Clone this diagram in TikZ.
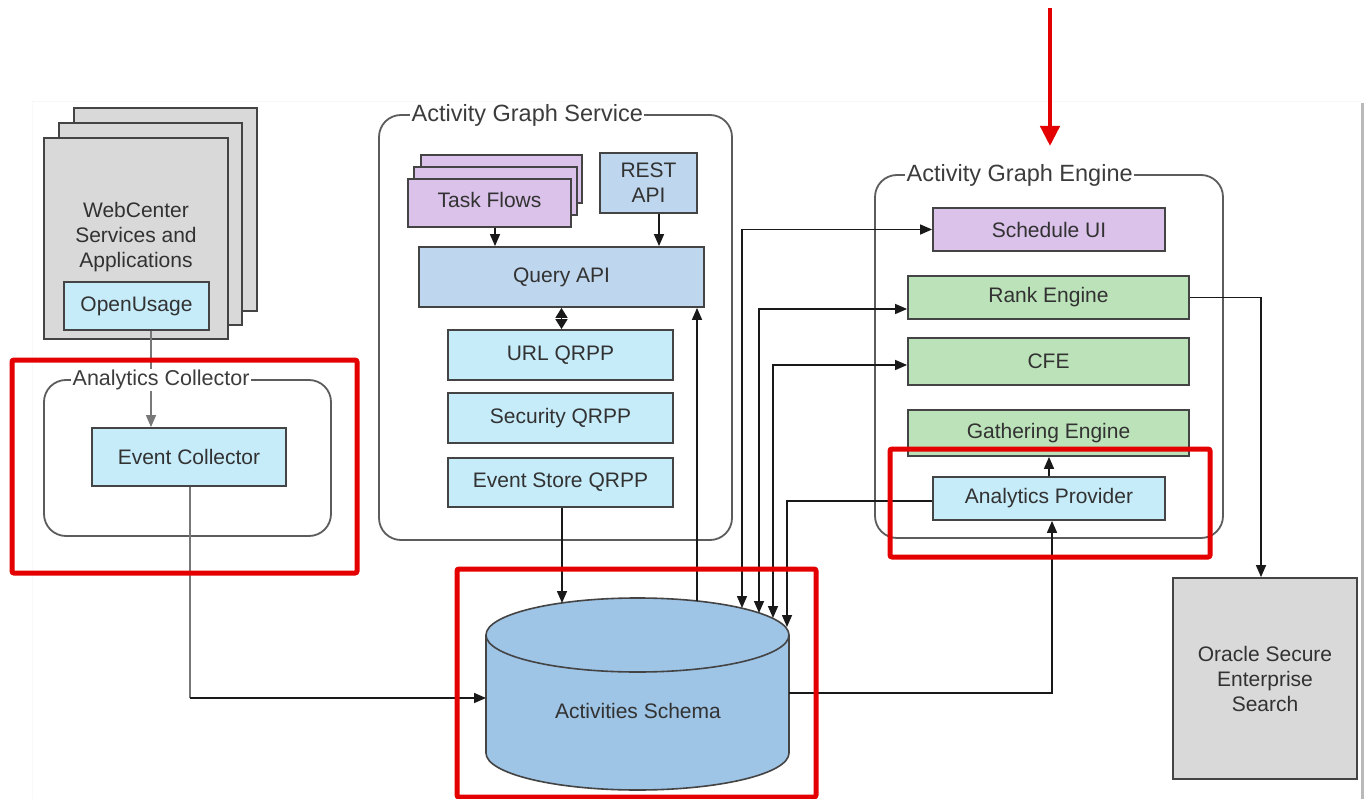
\documentclass[tikz,border=0pt]{standalone}
\usepackage{fontspec}
\setmainfont{Liberation Sans}
\usetikzlibrary{arrows.meta,calc}
\definecolor{lblue}{RGB}{198,236,250}
\definecolor{mblue}{RGB}{190,215,238}
\definecolor{lpurple}{RGB}{218,194,234}
\definecolor{lgreen}{RGB}{188,226,185}
\definecolor{lgray}{RGB}{217,217,217}
\definecolor{dbc}{RGB}{158,196,230}
\definecolor{bline}{RGB}{68,68,68}
\definecolor{cline}{RGB}{92,92,92}
\definecolor{txt}{RGB}{50,50,50}
\definecolor{ttxt}{RGB}{60,60,60}
\definecolor{cc}{RGB}{25,25,25}
\definecolor{gline}{RGB}{120,120,120}
\definecolor{redc}{RGB}{228,0,0}
\begin{document}
\begin{tikzpicture}[x=1pt,y=-1pt,
  box/.style={draw=bline, line width=1.8pt, inner sep=0pt, text=txt, align=center,
    font=\fontsize{21}{25}\selectfont},
  cont/.style={draw=cline, line width=1.8pt, rounded corners=22pt, inner sep=0pt},
  ttl/.style={fill=white, inner xsep=1.5pt, inner ysep=1pt, text=ttxt, anchor=west},
  conn/.style={draw=cc, line width=1.5pt},
  arr/.style={conn, -{Triangle[length=12pt,width=10pt]}},
  arrb/.style={conn, {Triangle[length=12pt,width=10pt]}-{Triangle[length=12pt,width=10pt]}},
  dia/.style={conn, {Triangle[length=10pt,width=12pt]}-{Triangle[length=10pt,width=12pt]}},
  redbox/.style={draw=redc, line width=5pt, rounded corners=2pt}
]
\useasboundingbox (0,0) rectangle (1364,799);
\fill[white] (0,0) rectangle (1364,799);
% page edges of the screenshot
\draw[gray!6, line width=1pt] (32,102) -- (1361,102);
\draw[gray!5, line width=1pt] (32,102) -- (32,799);
\draw[gray!55, line width=3pt] (1362.5,103) -- (1362.5,799);

% ---------- WebCenter stack ----------
\node[box, fill=lgray, minimum width=183pt, minimum height=203pt] (web3) at (165.5,209.5) {};
\node[box, fill=lgray, minimum width=183pt, minimum height=202pt] (web2) at (150.5,224) {};
\node[box, fill=lgray, minimum width=184pt, minimum height=201pt] (web1) at (136,238.5) {};
\node[text=txt, align=center, font=\fontsize{21}{25}\selectfont] (webtxt) at (136,237) {WebCenter\\Services and\\Applications};
\node[box, fill=lblue, minimum width=145pt, minimum height=48pt] (ou) at (136.5,306) {OpenUsage};

% ---------- Analytics Collector ----------
\node[cont, minimum width=287pt, minimum height=156pt] (acc) at (187.5,458) {};
\node[box, fill=lblue, minimum width=194pt, minimum height=58pt] (ec) at (189,457) {Event Collector};

% ---------- Activity Graph Service ----------
\node[cont, minimum width=353pt, minimum height=425pt] (ags) at (555.5,327.5) {};
\node[box, fill=lpurple, minimum width=161pt, minimum height=48pt] (tf3) at (501.5,179) {};
\node[box, fill=lpurple, minimum width=163pt, minimum height=48pt] (tf2) at (495.5,191) {};
\node[box, fill=lpurple, minimum width=163pt, minimum height=48pt] (tf1) at (489.5,203) {};
\node[text=txt, font=\fontsize{21}{25}\selectfont] (tftxt) at (489.5,200) {Task Flows};
\node[box, fill=mblue, minimum width=97pt, minimum height=60pt] (rest) at (648.5,183) {REST\\API};
\node[box, fill=mblue, minimum width=285pt, minimum height=60pt] (qa) at (561.5,277) {Query API};
\node[box, fill=lblue, minimum width=225pt, minimum height=50pt] (url) at (560.5,355) {URL QRPP};
\node[box, fill=lblue, minimum width=225pt, minimum height=50pt] (sec) at (560.5,418) {Security QRPP};
\node[box, fill=lblue, minimum width=225pt, minimum height=49pt] (esq) at (560.5,482.5) {Event Store QRPP};

% ---------- Activity Graph Engine ----------
\node[cont, minimum width=348pt, minimum height=363pt] (age) at (1049,356.5) {};
\node[box, fill=lpurple, minimum width=232pt, minimum height=43pt] (sui) at (1049,229.5) {Schedule UI};
\node[box, fill=lgreen, minimum width=281pt, minimum height=43pt] (re) at (1048.5,297.5) {Rank Engine};
\node[box, fill=lgreen, minimum width=281pt, minimum height=47pt] (cfe) at (1048.5,361.5) {CFE};
\node[box, fill=lgreen, minimum width=281pt, minimum height=46pt] (ge) at (1048.5,433) {Gathering Engine};
\node[box, fill=lblue, minimum width=232pt, minimum height=43pt] (ap) at (1049,498.5) {Analytics Provider};

% ---------- Oracle SES ----------
\node[box, fill=lgray, minimum width=184pt, minimum height=201pt] (os) at (1265,678.5) {Oracle Secure\\Enterprise\\Search};

% ---------- Activities Schema cylinder ----------
\fill[dbc] (486,635) -- (486,753) arc[start angle=180, end angle=0, x radius=151.5, y radius=37]
  -- (789,635) arc[start angle=0, end angle=-180, x radius=151.5, y radius=37] -- cycle;
\draw[bline, line width=1.6pt] (486,635) -- (486,753) arc[start angle=180, end angle=0, x radius=151.5, y radius=37] -- (789,635);
\draw[bline, line width=1.6pt] (637.5,635) ellipse [x radius=151.5, y radius=37];
\node[text=txt, font=\fontsize{21}{25}\selectfont] (db) at (638,711) {Activities Schema};

\coordinate (dbL) at (486,698);
\coordinate (dbR) at (789,693);
\coordinate (dbT1) at (562,603);
\coordinate (dbT2) at (697,601);
\coordinate (dbS) at (742,608);
\coordinate (dbRk) at (759,613);
\coordinate (dbC) at (773,618);
\coordinate (dbA) at (787,627);

% ---------- connectors ----------
\coordinate (ouOut) at ($(ou.south)+(14.5,0)$);
\draw[arr, draw=gline] (ouOut) -- (ouOut |- ec.north);
\coordinate (ecOut) at ($(ec.south)+(1,0)$);
\coordinate (ecBend) at (ecOut |- dbL);
\draw[conn, draw=gline] (ecOut) -- (ecBend);
\draw[arr] (ecBend) -- (dbL);

\coordinate (tfo) at ($(tf1.south)+(5.5,0)$);
\draw[arr] (tfo) -- (tfo |- qa.north);
\coordinate (resto) at ($(rest.south)+(10.5,0)$);
\draw[arr] (resto) -- (resto |- qa.north);
\draw[dia] (qa.south) -- (qa.south |- url.north);
\coordinate (esqo) at ($(esq.south)+(1.5,0)$);
\draw[arr] (esqo) -- (dbT1);
\draw[arr] (dbT2) -- (dbT2 |- qa.south);

\draw[arrb] (dbS) |- (sui.west);
\coordinate (reIn) at ($(re.west)+(0,11.5)$);
\draw[arrb] (dbRk) |- (reIn);
\coordinate (cfeIn) at ($(cfe.west)+(0,3.5)$);
\draw[arrb] (dbC) |- (cfeIn);
\coordinate (apOut) at ($(ap.west)+(0,2.5)$);
\draw[arr] (apOut) -| (dbA);
\coordinate (apIn) at ($(ap.south)+(3,0)$);
\draw[arr] (dbR) -| (apIn);
\draw[arr] (ap.north) -- (ap.north |- ge.south);
\coordinate (osIn) at ($(os.north)+(-4,0)$);
\draw[arr] (re.east) -| (osIn);

% ---------- container titles ----------
\node[ttl, font=\fontsize{21.5}{25}\selectfont] (acct) at (71,380) {Analytics Collector};
\node[ttl, font=\fontsize{23.5}{27}\selectfont] (agst) at (410,115) {Activity Graph Service};
\node[ttl, font=\fontsize{23.5}{27}\selectfont] (aget) at (905,175) {Activity Graph Engine};

% ---------- red highlights ----------
\draw[redbox] (12,360) rectangle (357,573);
\draw[redbox] (457,569) rectangle (816,797);
\draw[redbox] (890,449) rectangle (1210,557);
\coordinate (ra1) at (1050,8);
\coordinate (ra2) at (1050,146);
\draw[draw=redc, line width=4.5pt, -{Triangle[length=20pt,width=19pt]}] (ra1) -- (ra2);
\end{tikzpicture}
\end{document}
